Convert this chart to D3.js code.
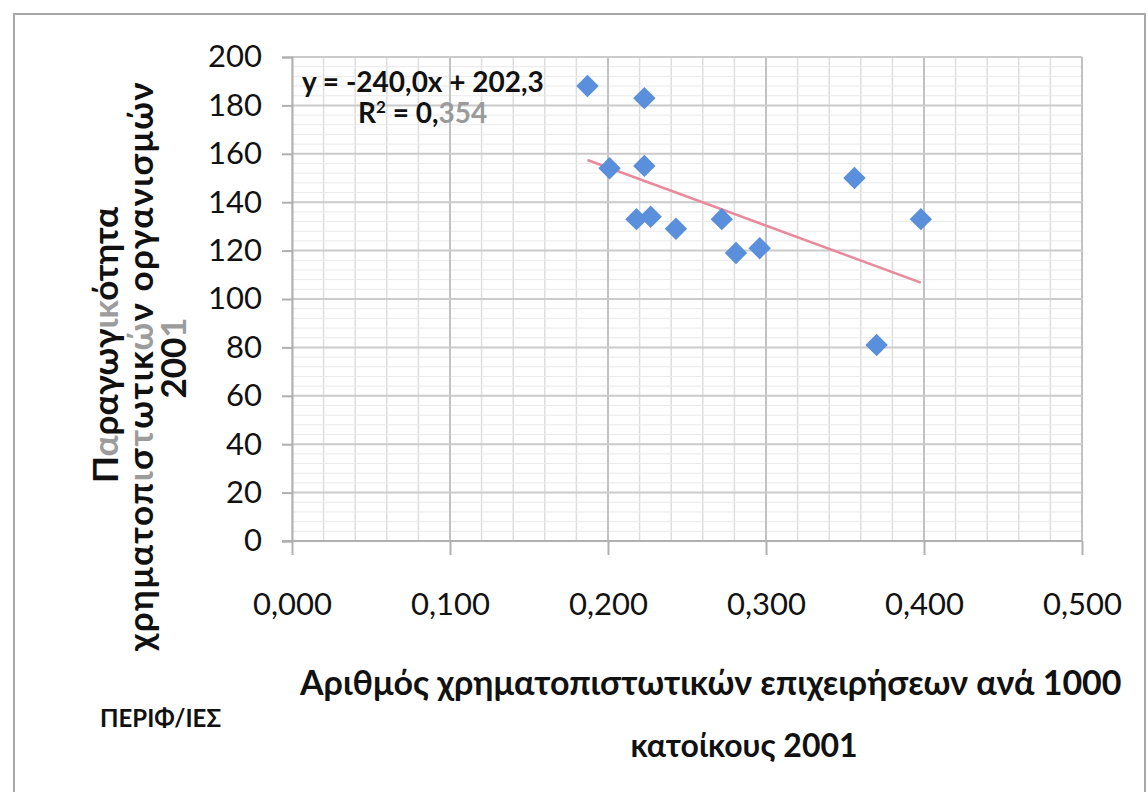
<!DOCTYPE html>
<html>
<head>
<meta charset="utf-8">
<title>Παραγωγικότητα vs χρηματοπιστωτικές επιχειρήσεις</title>
<style>
  body { margin: 0; background: #fff; }
  text { font-family: Lato, "Open Sans", sans-serif; }
</style>
</head>
<body>
<div id="chart"></div>
<script src="https://d3js.org/d3.v7.min.js"></script>
<script>
// data (firms per 1000 inhabitants vs productivity, 2001)
const firmsPer1000 = [0.187, 0.223, 0.201, 0.223, 0.218, 0.227, 0.243, 0.272, 0.281, 0.296, 0.356, 0.370, 0.398];
const productivity = [188, 183, 154, 155, 133, 134, 129, 133, 119, 121, 150, 81, 133];

// trendline shown in the chart
const trendSlope = -240.0;
const trendIntercept = 202.3;

const xTicks = [0, 0.1, 0.2, 0.3, 0.4, 0.5];
const yTicks = [0, 20, 40, 60, 80, 100, 120, 140, 160, 180, 200];

const W = 1148, H = 792;
const plot = {left: 292, right: 1082, top: 57, bottom: 541};

const svg = d3.select("#chart").append("svg")
  .attr("width", W)
  .attr("height", H);

// outer chart frame
svg.append("rect")
  .attr("x", 14).attr("y", 14)
  .attr("width", 1131).attr("height", 790)
  .attr("fill", "#fff")
  .attr("stroke", "#a8a8a8")
  .attr("stroke-width", 2);

const x = d3.scaleLinear().domain([0, 0.5]).range([plot.left, plot.right]);
const y = d3.scaleLinear().domain([0, 200]).range([plot.bottom, plot.top]);

// minor gridlines
const grid = svg.append("g");
grid.selectAll(".vminor")
  .data(d3.range(0, 0.5001, 0.02))
  .enter().append("line")
  .attr("x1", d => x(d)).attr("x2", d => x(d))
  .attr("y1", plot.top).attr("y2", plot.bottom)
  .attr("stroke", "#dedede").attr("stroke-width", 1.5);
grid.selectAll(".hminor")
  .data(d3.range(0, 200.1, 4))
  .enter().append("line")
  .attr("x1", plot.left).attr("x2", plot.right)
  .attr("y1", d => y(d)).attr("y2", d => y(d))
  .attr("stroke", "#e9e9e9").attr("stroke-width", 1);

// major gridlines
grid.selectAll(".vmajor")
  .data(xTicks.slice(1))
  .enter().append("line")
  .attr("x1", d => x(d)).attr("x2", d => x(d))
  .attr("y1", plot.top).attr("y2", plot.bottom)
  .attr("stroke", "#c2c2c2").attr("stroke-width", 2);
grid.selectAll(".hmajor")
  .data(yTicks.slice(1))
  .enter().append("line")
  .attr("x1", plot.left).attr("x2", plot.right)
  .attr("y1", d => y(d)).attr("y2", d => y(d))
  .attr("stroke", "#cbcbcb").attr("stroke-width", 2);

// axes
const fmtX = v => d3.format(".3f")(v).replace(".", ",");

const xAxis = svg.append("g")
  .attr("transform", "translate(0," + plot.bottom + ")")
  .call(d3.axisBottom(x).tickValues(xTicks).tickFormat(fmtX).tickSize(14).tickPadding(38));
const yAxis = svg.append("g")
  .attr("transform", "translate(" + plot.left + ",0)")
  .call(d3.axisLeft(y).tickValues(yTicks).tickSize(10).tickPadding(20));

[xAxis, yAxis].forEach(a => {
  a.select(".domain").attr("stroke", "#b0b0b0").attr("stroke-width", 2);
  a.selectAll(".tick line").attr("stroke", "#b0b0b0").attr("stroke-width", 2);
  a.selectAll(".tick text")
    .attr("fill", "#111")
    .style("font-family", "Lato, 'Open Sans', sans-serif")
    .style("font-size", "31px");
});
// x axis line starts a little left of the y axis, like the original
xAxis.select(".domain").attr("d", "M" + (plot.left - 10) + ",0H" + plot.right);

// trendline
const xMin = d3.min(firmsPer1000), xMax = d3.max(firmsPer1000);
svg.append("line")
  .attr("x1", x(xMin)).attr("y1", y(trendSlope * xMin + trendIntercept))
  .attr("x2", x(xMax)).attr("y2", y(trendSlope * xMax + trendIntercept))
  .attr("stroke", "#e98a9c")
  .attr("stroke-width", 2.5);

// points (diamonds)
const pts = firmsPer1000.map((v, i) => ({x: v, y: productivity[i]}));
svg.selectAll(".pt")
  .data(pts)
  .enter().append("path")
  .attr("class", "pt")
  .attr("d", d3.symbol().type(d3.symbolDiamond2).size(320))
  .attr("transform", d => "translate(" + x(d.x) + "," + y(d.y) + ")")
  .attr("fill", "#5a8fdc");

// equation label
svg.append("text")
  .attr("x", 302).attr("y", 92)
  .attr("font-size", 28).attr("font-weight", "bold").attr("fill", "#111")
  .text("y = -240,0x + 202,3");
const r2 = svg.append("text")
  .attr("x", 358).attr("y", 123)
  .attr("font-size", 28).attr("font-weight", "bold").attr("fill", "#111");
r2.append("tspan").text("R");
r2.append("tspan").attr("dy", -10).attr("font-size", 17).text("2");
r2.append("tspan").attr("dy", 10).text(" = 0,");
r2.append("tspan").attr("fill", "#9a9a9a").text("354");

// y axis title (three lines, rotated); faded parts as in the scan
const yTitle = [
  [["Π", 0], ["α", 1], ["ραγωγ", 0], ["ικ", 1], ["ότητα", 0]],
  [["χρηματοπ", 0], ["ι", 1], ["σ", 0], ["τ", 1], ["ωτικ", 0], ["ώ", 1], ["ν οργανισμών", 0]],
  [["200", 0], ["1", 1]]
];
const yTitleX = [118, 153, 186];
const yTitleMid = [345, 366, 358];
yTitle.forEach((line, i) => {
  const t = svg.append("text")
    .attr("transform", "translate(" + yTitleX[i] + "," + yTitleMid[i] + ") rotate(-90)")
    .attr("text-anchor", "middle")
    .attr("font-size", 35).attr("font-weight", "bold").attr("fill", "#111")
    .attr("letter-spacing", i === 1 ? 1.5 : 0);
  line.forEach(seg => t.append("tspan").attr("fill", seg[1] ? "#9c9c9c" : "#111").text(seg[0]));
});

// x axis title
svg.append("text")
  .attr("x", 300).attr("y", 695)
  .attr("font-size", 34).attr("font-weight", "bold").attr("fill", "#111")
  .text("Αριθμός χρηματοπιστωτικών επιχειρήσεων ανά 1000");
svg.append("text")
  .attr("x", 744).attr("y", 757)
  .attr("text-anchor", "middle")
  .attr("font-size", 32).attr("font-weight", "bold").attr("fill", "#111")
  .text("κατοίκους 2001");

// source note
svg.append("text")
  .attr("x", 100).attr("y", 727)
  .attr("font-size", 24).attr("font-weight", "bold").attr("fill", "#111")
  .text("ΠΕΡΙΦ/ΙΕΣ");
</script>
</body>
</html>
